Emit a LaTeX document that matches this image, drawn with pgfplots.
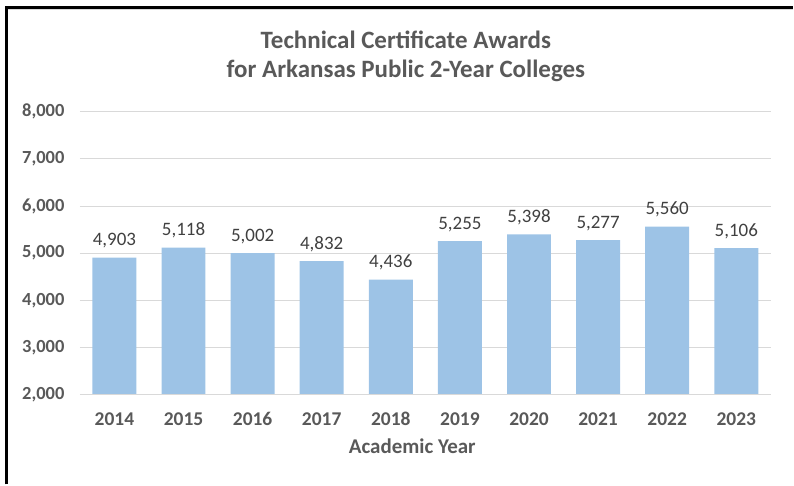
\documentclass[border=0pt]{standalone}
\usepackage{pgfplots}
\pgfplotsset{compat=1.18}
\usepackage{fontspec}
\setmainfont{Carlito}
\definecolor{barblue}{HTML}{9DC3E6}
\definecolor{gridgray}{HTML}{D9D9D9}
\definecolor{txtgray}{HTML}{595959}
\definecolor{lblgray}{HTML}{404040}
\begin{document}
\begin{tikzpicture}[x=1pt,y=1pt]
\path (0,0) rectangle (794,485);
\draw[line width=2.4pt,black] (6.5,0) -- (6.5,477.3) -- (794,477.3);
\draw[line width=0.8pt,gridgray] (8,475.2) -- (794,475.2);
\node[font=\fontsize{25}{29}\selectfont\bfseries,text=txtgray,align=center] at (406.5,428.5) {Technical Certificate Awards\\for Arkansas Public 2-Year Colleges};
\begin{axis}[
  at={(80pt,90pt)}, anchor=south west,
  scale only axis,
  width=692pt, height=283pt,
  xmin=-0.5, xmax=9.5,
  ymin=2000, ymax=8000,
  ytick={2000,3000,4000,5000,6000,7000,8000},
  xtick={0,...,9},
  xticklabels={2014,2015,2016,2017,2018,2019,2020,2021,2022,2023},
  axis line style={draw=none},
  axis x line*=bottom,
  major tick length=0pt,
  ymajorgrids,
  grid style={gridgray,line width=0.9pt},
  /pgf/number format/assume math mode=true,
  /pgf/number format/.cd, fixed, 1000 sep={,}, /pgfplots/.cd,
  yticklabel style={font=\fontsize{18.5}{18.5}\selectfont\bfseries,text=txtgray,xshift=-12pt},
  xticklabel style={font=\fontsize{19.5}{19.5}\selectfont\bfseries,text=txtgray,anchor=base,yshift=-31pt},
  xlabel={Academic Year},
  xlabel style={font=\fontsize{21}{21}\selectfont\bfseries,text=txtgray,anchor=base,at={(axis description cs:0.481,0)},yshift=-59pt},
  clip=false,
]
\addplot[ybar, bar width=44pt, fill=barblue, draw=none,
  nodes near coords,
  nodes near coords style={font=\fontsize{19}{19}\selectfont,text=lblgray,anchor=base,yshift=12pt,
    /pgf/number format/.cd, fixed, 1000 sep={,}, assume math mode=true}]
coordinates {(0,4903) (1,5118) (2,5002) (3,4832) (4,4436) (5,5255) (6,5398) (7,5277) (8,5560) (9,5106)};
\draw[gridgray,line width=0.9pt] (axis cs:-0.5,2000) -- (axis cs:9.5,2000);
\end{axis}
\end{tikzpicture}
\end{document}
